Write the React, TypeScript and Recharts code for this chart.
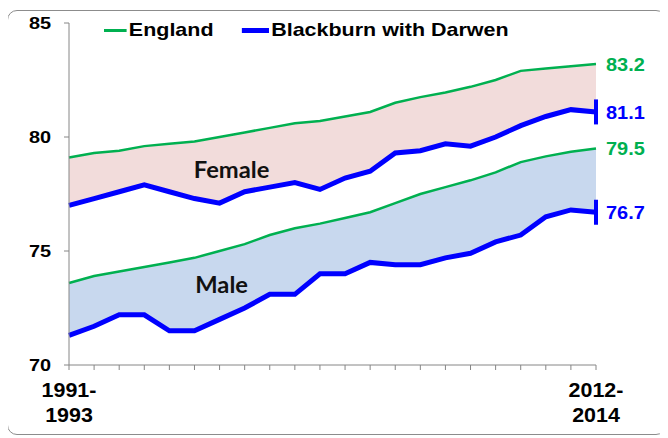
import { ComposedChart, Line, Area, XAxis, YAxis, ReferenceDot } from "recharts";

const periods = [
  "1991-1993", "1992-1994", "1993-1995", "1994-1996", "1995-1997", "1996-1998",
  "1997-1999", "1998-2000", "1999-2001", "2000-2002", "2001-2003", "2002-2004",
  "2003-2005", "2004-2006", "2005-2007", "2006-2008", "2007-2009", "2008-2010",
  "2009-2011", "2010-2012", "2011-2013", "2012-2014",
];

const englandFemale = [79.1, 79.3, 79.4, 79.6, 79.7, 79.8, 80.0, 80.2, 80.4, 80.6, 80.7, 80.9, 81.1, 81.5, 81.75, 81.95, 82.2, 82.5, 82.9, 83.0, 83.1, 83.2];
const blackburnFemale = [77.0, 77.3, 77.6, 77.9, 77.6, 77.3, 77.1, 77.6, 77.8, 78.0, 77.7, 78.2, 78.5, 79.3, 79.4, 79.7, 79.6, 80.0, 80.5, 80.9, 81.2, 81.1];
const englandMale = [73.6, 73.9, 74.1, 74.3, 74.5, 74.7, 75.0, 75.3, 75.7, 76.0, 76.2, 76.45, 76.7, 77.1, 77.5, 77.8, 78.1, 78.45, 78.9, 79.15, 79.35, 79.5];
const blackburnMale = [71.3, 71.7, 72.2, 72.2, 71.5, 71.5, 72.0, 72.5, 73.1, 73.1, 74.0, 74.0, 74.5, 74.4, 74.4, 74.7, 74.9, 75.4, 75.7, 76.5, 76.8, 76.7];

const yTicks = [70, 75, 80, 85];

const GREEN = "#00b050";
const BLUE = "#0000ff";
const FONT = "'Liberation Sans', Arial, sans-serif";

const data = periods.map((p, i) => ({
  period: p,
  engF: englandFemale[i],
  bwdF: blackburnFemale[i],
  engM: englandMale[i],
  bwdM: blackburnMale[i],
  femRange: [blackburnFemale[i], englandFemale[i]],
  maleRange: [blackburnMale[i], englandMale[i]],
}));

const last = periods.length - 1;

// the original picture is a little stretched sideways, so text gets a scaleX
function endDot(color: string, bar: boolean, values: number[]) {
  return (props: any) => {
    const { cx, cy, index } = props;
    if (index !== last) return <g key={`d-${index}`} />;
    return (
      <g key={`d-${index}`}>
        {bar && <rect x={cx - 2} y={cy - 12.5} width={4} height={25} fill={color} />}
        <text
          transform={`translate(${cx + 10},${cy + 7}) scale(1.05,1)`}
          fill={color}
          fontFamily={FONT}
          fontWeight="bold"
          fontSize={19}
        >
          {values[last].toFixed(1)}
        </text>
      </g>
    );
  };
}

function XTick(props: any) {
  const { x, y, payload, index } = props;
  if (index !== 0 && index !== last) return <g />;
  const [a, b] = String(payload.value).split("-");
  return (
    <text
      transform={`translate(${x},${y}) scale(1.1,1)`}
      textAnchor="middle"
      fontFamily={FONT}
      fontWeight="bold"
      fontSize={19.5}
      fill="#000"
    >
      <tspan x={0} y={25}>{a + "-"}</tspan>
      <tspan x={0} y={50}>{b}</tspan>
    </text>
  );
}

function YTick(props: any) {
  const { x, y, payload } = props;
  return (
    <text
      transform={`translate(${x},${y + 6}) scale(1.17,1)`}
      textAnchor="end"
      fontFamily={FONT}
      fontWeight="bold"
      fontSize={17}
      fill="#000"
    >
      {payload.value}
    </text>
  );
}

function areaLabel(text: string, dx: number, dy: number) {
  return (props: any) => (
    <text
      transform={`translate(${props.cx + dx},${props.cy + dy}) scale(1.08,1)`}
      textAnchor="middle"
      fontFamily="Lato, sans-serif"
      fontWeight={700}
      fontSize={22}
      fill="#111"
    >
      {text}
    </text>
  );
}

export default function App() {
  return (
    <div style={{ position: "relative", width: 660, height: 426, marginTop: 2, marginLeft: -1 }}>
      <div
        style={{
          position: "absolute", left: 0, top: 0, width: 657, height: 423,
          border: "1.5px solid #8c8c8c", borderRadius: 10, background: "#fff",
        }}
      />
      <div
        style={{
          position: "absolute", left: 97, top: 9, display: "flex", alignItems: "center",
          fontFamily: FONT, fontWeight: "bold", fontSize: 19, color: "#000",
          transform: "scaleX(1.13)", transformOrigin: "left center", whiteSpace: "nowrap",
        }}
      >
        <span style={{ display: "inline-block", width: 20, height: 3, background: GREEN, marginRight: 2 }} />
        <span style={{ marginRight: 25 }}>England</span>
        <span style={{ display: "inline-block", width: 24, height: 5, background: BLUE, marginRight: 2 }} />
        <span>Blackburn with Darwen</span>
      </div>
      <div style={{ position: "absolute", left: 0, top: 0 }}>
        <ComposedChart width={660} height={426} data={data} margin={{ top: 13, right: 71, bottom: 11, left: 0 }}>
          <Area dataKey="femRange" stroke="none" fill="#f2dcdb" fillOpacity={1} isAnimationActive={false} />
          <Area dataKey="maleRange" stroke="none" fill="#c8d8ee" fillOpacity={1} isAnimationActive={false} />
          <XAxis
            dataKey="period"
            interval={0}
            tick={<XTick />}
            tickSize={5}
            axisLine={{ stroke: "#868686" }}
            tickLine={{ stroke: "#868686" }}
            height={60}
          />
          <YAxis
            domain={[70, 85]}
            ticks={yTicks}
            width={62}
            tickSize={5}
            tickMargin={13}
            axisLine={{ stroke: "#868686" }}
            tickLine={{ stroke: "#868686" }}
            tick={<YTick />}
          />
          <Line dataKey="engF" stroke={GREEN} strokeWidth={2.5} dot={endDot(GREEN, false, englandFemale)} isAnimationActive={false} />
          <Line dataKey="bwdF" stroke={BLUE} strokeWidth={5} dot={endDot(BLUE, true, blackburnFemale)} isAnimationActive={false} />
          <Line dataKey="engM" stroke={GREEN} strokeWidth={2.5} dot={endDot(GREEN, false, englandMale)} isAnimationActive={false} />
          <Line dataKey="bwdM" stroke={BLUE} strokeWidth={5} dot={endDot(BLUE, true, blackburnMale)} isAnimationActive={false} />
          <ReferenceDot x="1997-1999" y={78.65} r={0} shape={areaLabel("Female", 12, 10)} />
          <ReferenceDot x="1997-1999" y={73.5} r={0} shape={areaLabel("Male", 2, 8)} />
        </ComposedChart>
      </div>
    </div>
  );
}
